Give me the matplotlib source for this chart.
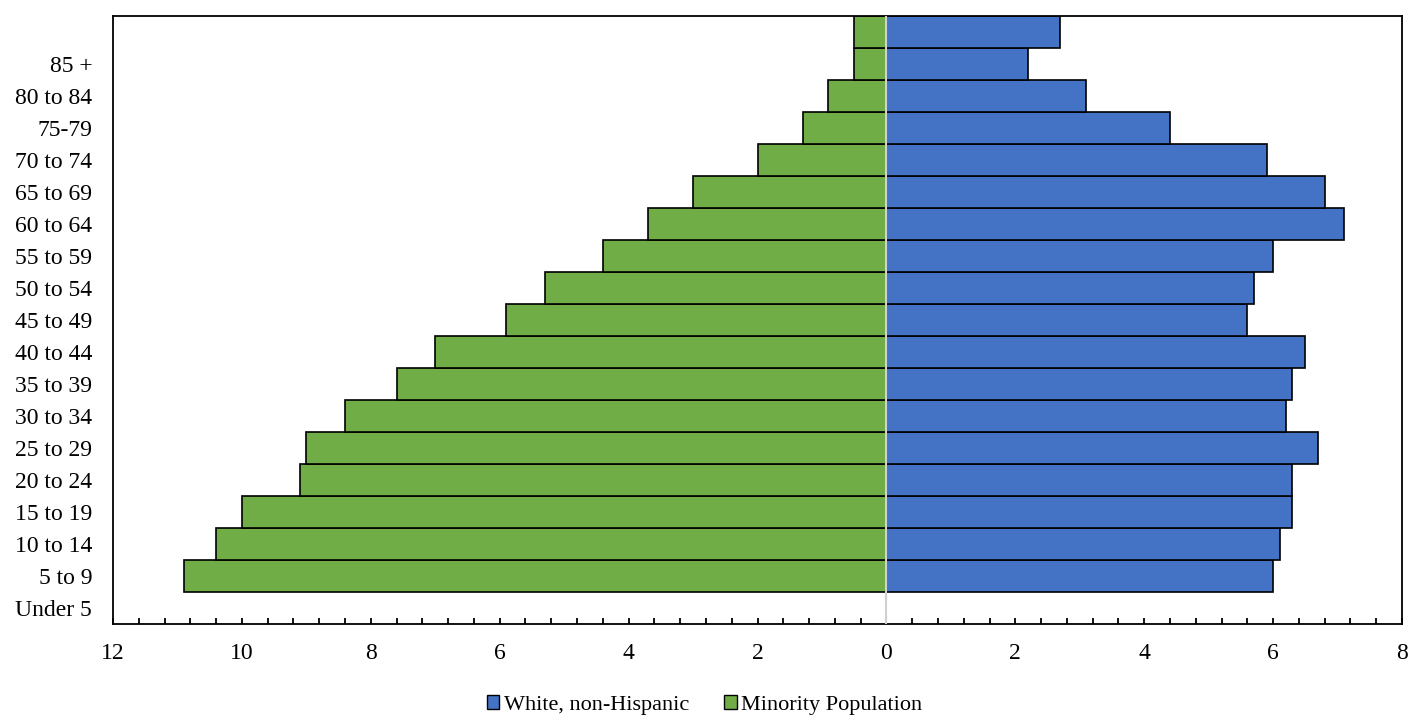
import matplotlib.pyplot as plt
import matplotlib.patches as patches
import numpy as np
from matplotlib.ticker import MultipleLocator, FuncFormatter

plt.rcParams["font.family"] = ["Liberation Serif", "DejaVu Serif"]

# age-group tick labels (bottom to top)
age_labels = [
    "Under 5", "5 to 9", "10 to 14", "15 to 19", "20 to 24", "25 to 29",
    "30 to 34", "35 to 39", "40 to 44", "45 to 49", "50 to 54", "55 to 59",
    "60 to 64", "65 to 69", "70 to 74", "75-79", "80 to 84", "85 +",
]

# percent of population per bar, bottom to top (bars sit one slot above labels)
white_pct = [6.0, 6.1, 6.3, 6.3, 6.7, 6.2, 6.3, 6.5, 5.6, 5.7, 6.0, 7.1,
             6.8, 5.9, 4.4, 3.1, 2.2, 2.7]
minority_pct = [10.9, 10.4, 10.0, 9.1, 9.0, 8.4, 7.6, 7.0, 5.9, 5.3, 4.4, 3.7,
                3.0, 2.0, 1.3, 0.9, 0.5, 0.5]

BLUE = "#4472C4"
GREEN = "#70AD47"

fig = plt.figure(figsize=(14.09, 7.17), dpi=100)
ax = fig.add_axes([113 / 1409, 1 - 624 / 717, (1402 - 113) / 1409, (624 - 16) / 717])

bar_pos = np.arange(1, len(white_pct) + 1)
ax.barh(bar_pos, white_pct, height=1.0, color=BLUE, edgecolor="black",
        linewidth=1.2, label="White, non-Hispanic", zorder=2)
ax.barh(bar_pos, [-v for v in minority_pct], height=1.0, color=GREEN,
        edgecolor="black", linewidth=1.2, label="Minority Population", zorder=2)

# zero line on top of bars
ax.axvline(0, color="#D0D0D0", linewidth=1.5, zorder=3)

ax.set_xlim(-12, 8)
ax.set_ylim(-0.5, len(age_labels) + 0.5)

ax.set_yticks(np.arange(len(age_labels)))
ax.set_yticklabels(age_labels, fontsize=17)
ax.tick_params(axis="y", length=0, pad=15)

ax.xaxis.set_major_locator(MultipleLocator(2))
ax.xaxis.set_minor_locator(MultipleLocator(0.4))
ax.xaxis.set_major_formatter(FuncFormatter(lambda v, p: f"{abs(v):.0f}"))
ax.tick_params(axis="x", which="both", direction="in", length=4, width=1.3,
               labelsize=17, pad=14)

for side in ax.spines.values():
    side.set_linewidth(1.3)

handles = [
    patches.Patch(facecolor=BLUE, edgecolor="black", label="White, non-Hispanic"),
    patches.Patch(facecolor=GREEN, edgecolor="black", label="Minority Population"),
]
fig.legend(handles=handles, loc="center", bbox_to_anchor=(0.5, 1 - 705 / 717),
           ncol=2, frameon=False, fontsize=16, handlelength=0.55,
           handleheight=0.55, handletextpad=0.2, columnspacing=1.6)

plt.savefig("out.png", dpi=100)
plt.close()
